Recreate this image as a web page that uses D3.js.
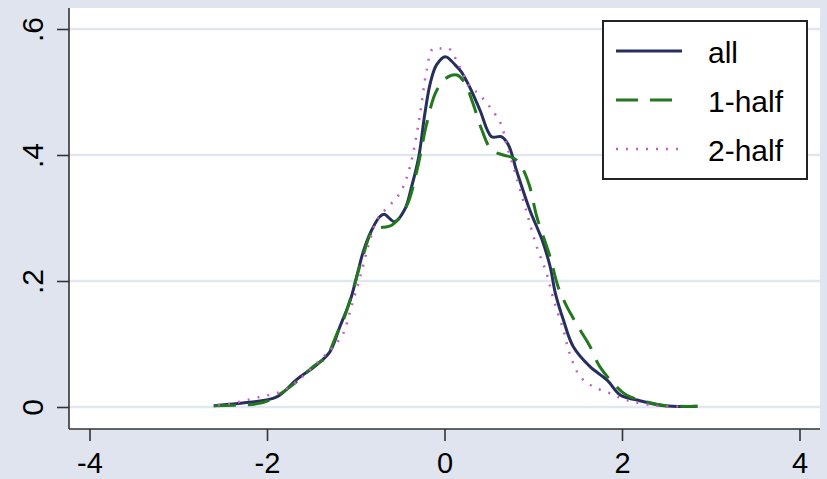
<!DOCTYPE html>
<html>
<head>
<meta charset="utf-8">
<script src="https://cdn.jsdelivr.net/npm/d3@7"></script>
<style>
  body { margin: 0; background: #dfe4ee; }
  svg { display: block; font-family: "Liberation Sans", Arial, sans-serif; }
</style>
</head>
<body>
<svg id="chart"></svg>
<script>
// density curves (x, density)
var allX = [-2.60, -2.23, -1.89, -1.67, -1.44, -1.29, -1.18, -1.06, -0.99, -0.91, -0.82, -0.73, -0.68, -0.56, -0.45, -0.37, -0.29, -0.22, -0.16, -0.09, 0.01, 0.12, 0.19, 0.29, 0.40, 0.53, 0.64, 0.72, 0.81, 0.96, 1.10, 1.19, 1.25, 1.34, 1.45, 1.64, 1.83, 1.98, 2.17, 2.47, 2.85];
var allY = [0.002, 0.007, 0.016, 0.043, 0.067, 0.088, 0.127, 0.170, 0.207, 0.249, 0.281, 0.302, 0.306, 0.294, 0.313, 0.350, 0.397, 0.467, 0.514, 0.543, 0.556, 0.543, 0.532, 0.506, 0.471, 0.429, 0.429, 0.416, 0.376, 0.313, 0.265, 0.223, 0.180, 0.138, 0.096, 0.064, 0.043, 0.019, 0.011, 0.002, 0.001];

var half1X = [-2.60, -2.12, -1.97, -1.74, -1.48, -1.33, -1.21, -1.14, -1.03, -0.91, -0.80, -0.59, -0.43, -0.31, -0.20, -0.09, 0.04, 0.14, 0.23, 0.32, 0.42, 0.53, 0.66, 0.78, 0.87, 0.96, 1.04, 1.19, 1.28, 1.38, 1.53, 1.64, 1.75, 1.90, 2.05, 2.28, 2.50, 2.85];
var half1Y = [0.002, 0.005, 0.011, 0.032, 0.064, 0.080, 0.117, 0.138, 0.186, 0.244, 0.281, 0.289, 0.318, 0.376, 0.450, 0.502, 0.524, 0.527, 0.514, 0.482, 0.440, 0.408, 0.400, 0.395, 0.381, 0.350, 0.302, 0.238, 0.191, 0.159, 0.122, 0.096, 0.064, 0.038, 0.019, 0.008, 0.002, 0.001];

var half2X = [-2.55, -2.42, -2.08, -1.85, -1.67, -1.40, -1.25, -1.14, -1.06, -0.95, -0.84, -0.76, -0.50, -0.39, -0.28, -0.20, -0.13, -0.03, 0.05, 0.16, 0.29, 0.38, 0.46, 0.55, 0.64, 0.70, 0.80, 0.93, 1.04, 1.15, 1.23, 1.34, 1.41, 1.53, 1.68, 1.86, 2.05, 2.39, 2.65];
var half2Y = [0.003, 0.005, 0.016, 0.024, 0.040, 0.075, 0.096, 0.117, 0.154, 0.207, 0.265, 0.297, 0.340, 0.381, 0.461, 0.535, 0.569, 0.569, 0.569, 0.543, 0.508, 0.498, 0.485, 0.469, 0.448, 0.416, 0.370, 0.307, 0.254, 0.212, 0.170, 0.122, 0.085, 0.048, 0.032, 0.022, 0.011, 0.002, 0.001];

var xTicks = [-4, -2, 0, 2, 4];
var yTicks = [0, 0.2, 0.4, 0.6];
var seriesNames = ['all', '1-half', '2-half'];

var width = 827, height = 479;
var plotLeft = 69, plotRight = 820, plotTop = 8, plotBottom = 429;

var svg = d3.select('#chart')
    .attr('width', width)
    .attr('height', height);

svg.append('rect')
    .attr('width', width).attr('height', height)
    .attr('fill', '#dfe4ee');

svg.append('rect')
    .attr('x', plotLeft).attr('y', plotTop)
    .attr('width', plotRight - plotLeft).attr('height', plotBottom - plotTop)
    .attr('fill', '#ffffff');

var x = d3.scaleLinear().domain([-4, 4]).range([89.5, 799.5]);
var y = d3.scaleLinear().domain([0, 0.6]).range([407, 29]);

// grid lines
svg.append('g').selectAll('line')
    .data(yTicks)
    .enter().append('line')
    .attr('x1', plotLeft).attr('x2', plotRight)
    .attr('y1', function (d) { return y(d); })
    .attr('y2', function (d) { return y(d); })
    .attr('stroke', '#e1e6f0')
    .attr('stroke-width', 2.5);

// axes
var yAxis = svg.append('g')
    .attr('transform', 'translate(' + plotLeft + ',0)')
    .call(d3.axisLeft(y).tickValues(yTicks).tickSize(12).tickSizeOuter(0)
        .tickFormat(function (d) { return d === 0 ? '0' : d3.format('.1f')(d).replace('0.', '.'); }));
yAxis.select('.domain').attr('d', 'M0,' + plotTop + 'V' + plotBottom);
yAxis.selectAll('.tick text')
    .attr('x', null).attr('dy', null)
    .attr('transform', 'translate(-26,0) rotate(-90)')
    .attr('text-anchor', 'middle')
    .style('font-size', '30px')
    .attr('fill', '#000');

var xAxis = svg.append('g')
    .attr('transform', 'translate(0,' + plotBottom + ')')
    .call(d3.axisBottom(x).tickValues(xTicks).tickSize(12).tickSizeOuter(0)
        .tickFormat(function (d) { return String(d); }));
xAxis.select('.domain').attr('d', 'M' + plotLeft + ',0H' + plotRight);
xAxis.selectAll('.tick text')
    .attr('y', 44).attr('dy', null)
    .style('font-size', '29px')
    .attr('fill', '#000');

svg.selectAll('.domain, .tick line')
    .attr('stroke', '#333')
    .attr('stroke-width', 1.6);

// curves
var line = d3.line()
    .x(function (d) { return x(d[0]); })
    .y(function (d) { return y(d[1]); })
    .curve(d3.curveCatmullRom.alpha(0.5));

var series = [
    {name: seriesNames[0], pts: d3.zip(allX, allY), color: '#262f5e', width: 3, dash: null},
    {name: seriesNames[1], pts: d3.zip(half1X, half1Y), color: '#22771f', width: 3, dash: '22,12'},
    {name: seriesNames[2], pts: d3.zip(half2X, half2Y), color: '#c25ec2', width: 2.5, dash: '2,8'}
];

svg.append('g').selectAll('path')
    .data(series)
    .enter().append('path')
    .attr('d', function (d) { return line(d.pts); })
    .attr('fill', 'none')
    .attr('stroke', function (d) { return d.color; })
    .attr('stroke-width', function (d) { return d.width; })
    .attr('stroke-dasharray', function (d) { return d.dash; });

// legend
var legend = svg.append('g');
legend.append('rect')
    .attr('x', 603).attr('y', 21)
    .attr('width', 204).attr('height', 158)
    .attr('fill', '#fff')
    .attr('stroke', '#222')
    .attr('stroke-width', 2);

var rows = legend.selectAll('g.row')
    .data(series)
    .enter().append('g')
    .attr('class', 'row')
    .attr('transform', function (d, i) { return 'translate(0,' + (51 + i * 49) + ')'; });

rows.append('line')
    .attr('x1', 616).attr('x2', 682)
    .attr('stroke', function (d) { return d.color; })
    .attr('stroke-width', function (d) { return d.width; })
    .attr('stroke-dasharray', function (d) { return d.dash; });

rows.append('text')
    .attr('x', 708).attr('y', 12)
    .style('font-size', '30px')
    .text(function (d) { return d.name; });
</script>
</body>
</html>
